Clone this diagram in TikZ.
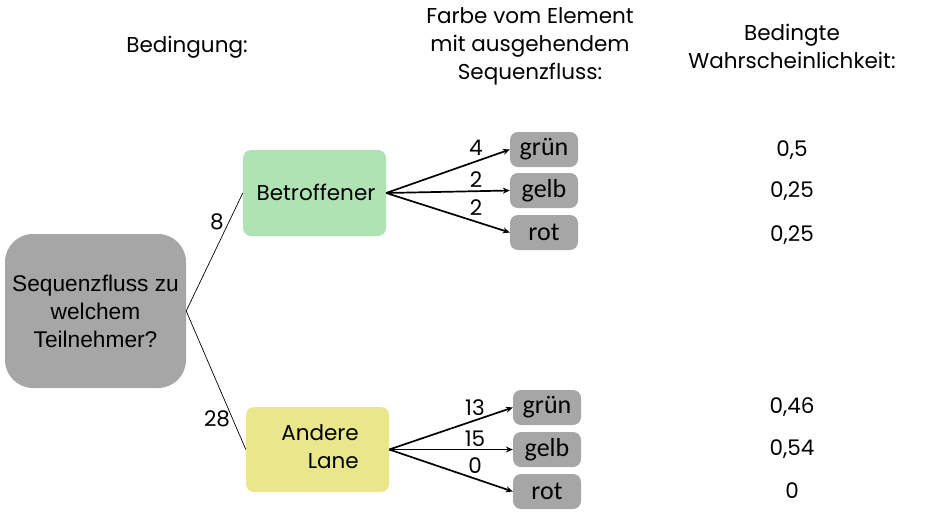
\documentclass[tikz,border=0pt]{standalone}
\usepackage{fontspec}
\setmainfont{Poppins}
\newfontfamily\arialf{Liberation Sans}
\newfontfamily\calibf{Carlito}
\usetikzlibrary{arrows.meta}
\definecolor{boxgray}{HTML}{A6A6A6}
\definecolor{boxgreen}{HTML}{B0E3B4}
\definecolor{boxyellow}{HTML}{E9E68B}
\tikzset{
  txt/.style={inner sep=0pt, font=\fontsize{21.5}{28}\selectfont, align=center},
  bigbox/.style={fill=boxgray, rounded corners=28pt, minimum width=181pt, minimum height=154pt, inner sep=0pt, align=center, font=\arialf\fontsize{22.7}{28}\selectfont},
  condbox/.style={rounded corners=8pt, minimum width=143pt, minimum height=86pt, inner sep=0pt},
  colbox/.style={fill=boxgray, rounded corners=8pt, minimum width=68pt, minimum height=35pt, inner sep=0pt, font=\calibf\fontsize{26}{28}\selectfont},
  arr/.style={line width=1.7pt, -{Stealth[length=7pt,width=6pt]}},
  thin/.style={line width=0.7pt},
}
\begin{document}
\begin{tikzpicture}[x=1pt,y=-1pt]
\useasboundingbox (0,0) rectangle (929,523);
% headers
\node[txt] (h1) at (187,47) {Bedingung:};
\node[txt] (h2) at (530,46) {Farbe vom Element\\mit ausgehendem\\Sequenzfluss:};
\node[txt] (h3) at (792,46) {Bedingte\\Wahrscheinlichkeit:};
% main
\node[bigbox] (q) at (95.5,311) {Sequenzfluss zu\\welchem\\Teilnehmer?};
\node[condbox, fill=boxgreen] (b) at (314.5,193) {};
\node[txt] (bt) at (316,192) {Betroffener};
\node[condbox, fill=boxyellow, minimum height=85pt] (a) at (317.5,449.5) {};
\node[txt, align=right] (at) at (320,447) {Andere\\Lane};
% color boxes
\node[colbox] (g1) at (544,149.5) {grün};
\node[colbox] (y1) at (544,190.5) {gelb};
\node[colbox] (r1) at (544,232.5) {rot};
\node[colbox] (g2) at (547,407.5) {grün};
\node[colbox] (y2) at (547,449.5) {gelb};
\node[colbox] (r2) at (547,491.5) {rot};
% tree lines
\draw[thin] (q.east) -- (b.west);
\draw[thin] (q.east) -- (a.west);
\node[txt] (n8) at (217,222) {8};
\node[txt] (n28) at (217,419) {28};
% arrows
\draw[arr] (b.east) -- (g1.west);
\draw[arr] (b.east) -- (y1.west);
\draw[arr] (b.east) -- (r1.west);
\draw[arr] (a.east) -- (g2.west);
\draw[arr] (a.east) -- (y2.west);
\draw[arr] (a.east) -- (r2.west);
\node[txt] (c1) at (476,148) {4};
\node[txt] (c2) at (476,180) {2};
\node[txt] (c3) at (476,208) {2};
\node[txt] (c4) at (475,408) {13};
\node[txt] (c5) at (475,439) {15};
\node[txt] (c6) at (475,466) {0};
% probabilities
\node[txt] (p1) at (792,150) {0,5};
\node[txt] (p2) at (792,191) {0,25};
\node[txt] (p3) at (792,235) {0,25};
\node[txt] (p4) at (792,407) {0,46};
\node[txt] (p5) at (792,449) {0,54};
\node[txt] (p6) at (792,491) {0};
\end{tikzpicture}
\end{document}
